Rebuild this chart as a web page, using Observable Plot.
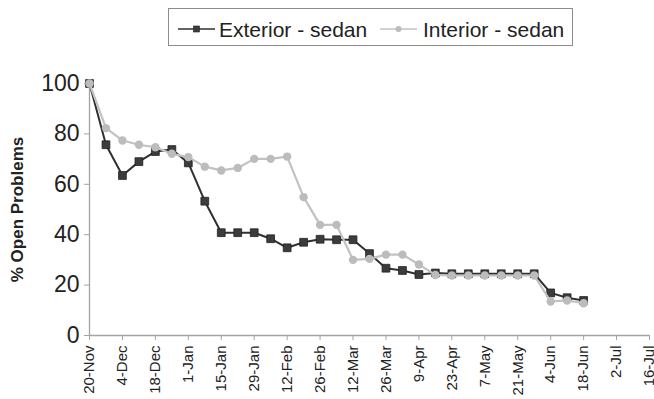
<!DOCTYPE html>
<html>
<head>
<meta charset="utf-8">
<script src="https://cdn.jsdelivr.net/npm/d3@7"></script>
<script src="https://cdn.jsdelivr.net/npm/@observablehq/plot@0.6"></script>
<style>
  body { margin: 0; background: #fff; font-family: "Liberation Sans", Arial, sans-serif; color: #222; }
  #wrap { width: 654px; height: 399px; overflow: hidden; }
  #legend { position: relative; width: 654px; height: 50px; }
  #legend .box { position: absolute; left: 168px; top: 8px; width: 403px; height: 36px; border: 1px solid #8c8c8c; }
  #legend svg { position: absolute; top: 23px; }
  #legend span { position: absolute; top: 19px; font-size: 21px; line-height: 21px; white-space: nowrap; color: #222; }
</style>
</head>
<body>
<div id="wrap">
  <div id="legend"></div>
  <div id="chart"></div>
</div>
<script>
// Weekly snapshot dates
const weeks = [
  "2006-11-20", "2006-11-27", "2006-12-04", "2006-12-11", "2006-12-18", "2006-12-25",
  "2007-01-01", "2007-01-08", "2007-01-15", "2007-01-22", "2007-01-29", "2007-02-05",
  "2007-02-12", "2007-02-19", "2007-02-26", "2007-03-05", "2007-03-12", "2007-03-19",
  "2007-03-26", "2007-04-02", "2007-04-09", "2007-04-16", "2007-04-23", "2007-04-30",
  "2007-05-07", "2007-05-14", "2007-05-21", "2007-05-28", "2007-06-04", "2007-06-11",
  "2007-06-18"
];

// % open problems per week
const exteriorSedan = [
  100, 75.7, 63.5, 69.0, 73.0, 73.8, 68.5, 53.3, 40.8, 40.8, 40.8, 38.4,
  34.8, 37.0, 38.2, 38.0, 38.0, 32.5, 26.7, 25.8, 24.2, 24.8, 24.5, 24.5,
  24.5, 24.5, 24.5, 24.5, 16.9, 15.0, 13.9
];
const interiorSedan = [
  100, 82.3, 77.4, 75.7, 74.7, 72.1, 70.8, 67.0, 65.5, 66.5, 70.1, 70.1,
  71.0, 54.9, 43.9, 43.9, 30.0, 30.4, 32.1, 32.1, 28.2, 24.0, 23.8, 23.8,
  23.8, 23.8, 23.8, 23.8, 13.5, 13.9, 12.8
];

// Axis ticks
const xTickDates = [
  "2006-11-20", "2006-12-04", "2006-12-18", "2007-01-01", "2007-01-15", "2007-01-29",
  "2007-02-12", "2007-02-26", "2007-03-12", "2007-03-26", "2007-04-09", "2007-04-23",
  "2007-05-07", "2007-05-21", "2007-06-04", "2007-06-18", "2007-07-02", "2007-07-16"
];
const yTicks = [0, 20, 40, 60, 80, 100];

const seriesNames = ["Exterior - sedan", "Interior - sedan"];
const yLabel = "% Open Problems";

const parse = d3.utcParse("%Y-%m-%d");
const xTicks = xTickDates.map(parse);
const ext = weeks.map((d, i) => ({date: parse(d), value: exteriorSedan[i]}));
const int = weeks.map((d, i) => ({date: parse(d), value: interiorSedan[i]}));

const darkLine = "#303030", darkFill = "#3c3c3c";
const lightLine = "#c2c2c2", lightFill = "#bcbcbc";
const axisGray = "#a4a4a4";

const chart = Plot.plot({
  width: 654,
  height: 349,
  marginLeft: 89,
  marginRight: 5,
  marginTop: 33,
  marginBottom: 64,
  style: {fontFamily: "'Liberation Sans', Arial, sans-serif", background: "#fff", color: "#222"},
  x: {type: "utc", domain: [xTicks[0], xTicks[xTicks.length - 1]]},
  y: {domain: [0, 100]},
  marks: [
    Plot.ruleY([0], {stroke: axisGray, strokeWidth: 1.3}),
    Plot.ruleX([xTicks[0]], {stroke: axisGray, strokeWidth: 1.3}),
    Plot.axisY({ticks: yTicks, tickSize: 5, tickPadding: 5, fontSize: 23, stroke: axisGray, fill: "#222", label: null}),
    Plot.axisX({
      ticks: xTicks, tickFormat: d3.utcFormat("%-d-%b"), tickRotate: -90,
      tickSize: 5, tickPadding: 5, fontSize: 15, stroke: axisGray, fill: "#222", label: null
    }),
    Plot.text([yLabel], {
      frameAnchor: "left", textAnchor: "middle", dx: -72, rotate: -90,
      fontSize: 17, fontWeight: "bold", fill: "#222"
    }),
    Plot.line(ext, {x: "date", y: "value", stroke: darkLine, strokeWidth: 2}),
    Plot.dot(ext, {x: "date", y: "value", symbol: "square", r: 4.4, fill: darkFill, stroke: "#222", strokeWidth: 0.8}),
    Plot.line(int, {x: "date", y: "value", stroke: lightLine, strokeWidth: 2.2}),
    Plot.dot(int, {x: "date", y: "value", symbol: "circle", r: 4.2, fill: lightFill, stroke: "none"})
  ]
});
document.getElementById("chart").appendChild(chart);

// Legend: line-with-marker swatches and series names
const legend = document.getElementById("legend");
legend.innerHTML = `
  <div class="box"></div>
  <svg width="38" height="12" style="left:178px">
    <line x1="0" y1="6" x2="37" y2="6" stroke="${darkLine}" stroke-width="1.6"/>
    <rect x="15.5" y="3" width="6" height="6" fill="${darkFill}" stroke="#222" stroke-width="0.6"/>
  </svg>
  <span style="left:219px">${seriesNames[0]}</span>
  <svg width="38" height="12" style="left:380px">
    <line x1="0" y1="6" x2="37" y2="6" stroke="${lightLine}" stroke-width="1.6"/>
    <circle cx="18.5" cy="6" r="3" fill="${lightFill}"/>
  </svg>
  <span style="left:423px">${seriesNames[1]}</span>
`;
</script>
</body>
</html>
